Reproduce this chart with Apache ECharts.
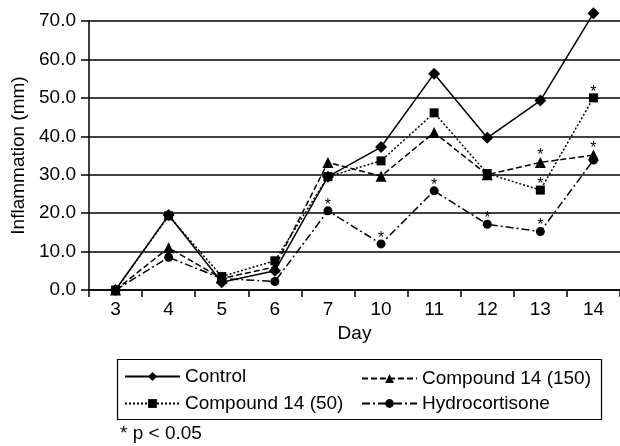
<!DOCTYPE html>
<html>
<head>
<meta charset="utf-8">
<script src="https://cdn.jsdelivr.net/npm/echarts@6/dist/echarts.min.js"></script>
<style>
  html, body { margin: 0; padding: 0; background: #fff; }
  #chart { width: 620px; height: 446px; }
</style>
</head>
<body>
<div id="chart"></div>
<script>
// 数据
const days = ['3', '4', '5', '6', '7', '10', '11', '12', '13', '14'];
const control = [0, 19.5, 2, 5, 29.5, 37.2, 56.3, 39.6, 49.3, 72];
const compound50 = [0, 19.3, 3.5, 7.6, 29.5, 33.6, 46.1, 30.3, 26, 50];
const compound150 = [0, 11, 3, 6, 33.2, 29.6, 41, 30, 33.2, 35.1];
const hydrocortisone = [0, 8.5, 3, 2.2, 20.6, 12, 25.8, 17.1, 15.2, 33.8];
// 显著性标记 (* p < 0.05)
const sig50 = [0, 0, 0, 0, 0, 0, 0, 0, 1, 1];
const sig150 = [0, 0, 0, 0, 0, 0, 0, 0, 1, 1];
const sigHydro = [0, 0, 0, 0, 1, 1, 1, 1, 1, 0];
const yTicks = [0, 10, 20, 30, 40, 50, 60, 70];

window.onload = function () {
  const myChart = echarts.init(document.getElementById('chart'));
  const font = 'Liberation Sans, Arial, sans-serif';

  function withStars(values, sig) {
    return values.map((v, i) => ({
      value: v,
      label: { show: !!sig[i] }
    }));
  }

  function makeSeries(name, values, sig, symbol, size, lineType) {
    return {
      name: name,
      type: 'line',
      data: withStars(values, sig),
      symbol: symbol,
      symbolSize: size,
      showAllSymbol: true,
      clip: false,
      color: '#000',
      itemStyle: { color: '#000' },
      lineStyle: { color: '#000', width: 1.5, type: lineType },
      label: {
        show: false,
        position: 'top',
        distance: 0,
        offset: [0, 7],
        formatter: '*',
        color: '#000',
        fontSize: 16,
        fontFamily: font
      },
      animation: false
    };
  }

  const legendText = { color: '#000', fontSize: 19, fontFamily: font };

  let option = {
    backgroundColor: '#fff',
    animation: false,
    grid: { left: 89, right: 0, top: 21, bottom: 156 },
    legend: [
      {
        orient: 'vertical',
        left: 119,
        top: 362,
        itemGap: 8,
        itemWidth: 55,
        itemHeight: 11,
        textStyle: legendText,
        data: ['Control', 'Compound 14 (50)']
      },
      {
        orient: 'vertical',
        left: 356,
        top: 364,
        itemGap: 6,
        itemWidth: 55,
        itemHeight: 11,
        textStyle: legendText,
        data: ['Compound 14 (150)', 'Hydrocortisone']
      }
    ],
    graphic: [
      {
        type: 'rect',
        shape: { x: 117.5, y: 359.5, width: 484, height: 60 },
        style: { fill: 'none', stroke: '#000', lineWidth: 1.2 },
        silent: true
      },
      {
        type: 'text',
        left: 120,
        top: 424,
        style: { text: '* p < 0.05', fill: '#000', fontSize: 19, fontFamily: font }
      }
    ],
    xAxis: {
      type: 'category',
      data: days,
      boundaryGap: true,
      name: 'Day',
      nameLocation: 'middle',
      nameGap: 33,
      nameTextStyle: { color: '#000', fontSize: 19, fontFamily: font },
      axisLine: { lineStyle: { color: '#000', width: 1.5 } },
      axisTick: { show: true, length: 7, interval: 0, lineStyle: { color: '#000', width: 1.5 } },
      axisLabel: { color: '#000', fontSize: 19, fontFamily: font, margin: 10, interval: 0 }
    },
    yAxis: {
      type: 'value',
      min: yTicks[0],
      max: yTicks[yTicks.length - 1],
      interval: 10,
      name: 'Inflammation (mm)',
      nameLocation: 'middle',
      nameGap: 61,
      nameRotate: 90,
      nameTextStyle: { color: '#000', fontSize: 19, fontFamily: font },
      axisLine: { show: true, lineStyle: { color: '#000', width: 1.5 } },
      axisTick: { show: true, length: 8, lineStyle: { color: '#000', width: 1.5 } },
      axisLabel: {
        color: '#000',
        fontSize: 19,
        fontFamily: font,
        margin: 13,
        formatter: (v) => v.toFixed(1)
      },
      splitLine: { show: true, lineStyle: { color: '#000', width: 1.5 } }
    },
    series: [
      makeSeries('Control', control, [], 'diamond', 12, 'solid'),
      makeSeries('Compound 14 (150)', compound150, sig150, 'triangle', 11, [6, 3]),
      makeSeries('Compound 14 (50)', compound50, sig50, 'rect', 9, [2, 2]),
      makeSeries('Hydrocortisone', hydrocortisone, sigHydro, 'circle', 9, [8, 3, 2, 3])
    ]
  };
  myChart.setOption(option);
};
</script>
</body>
</html>
